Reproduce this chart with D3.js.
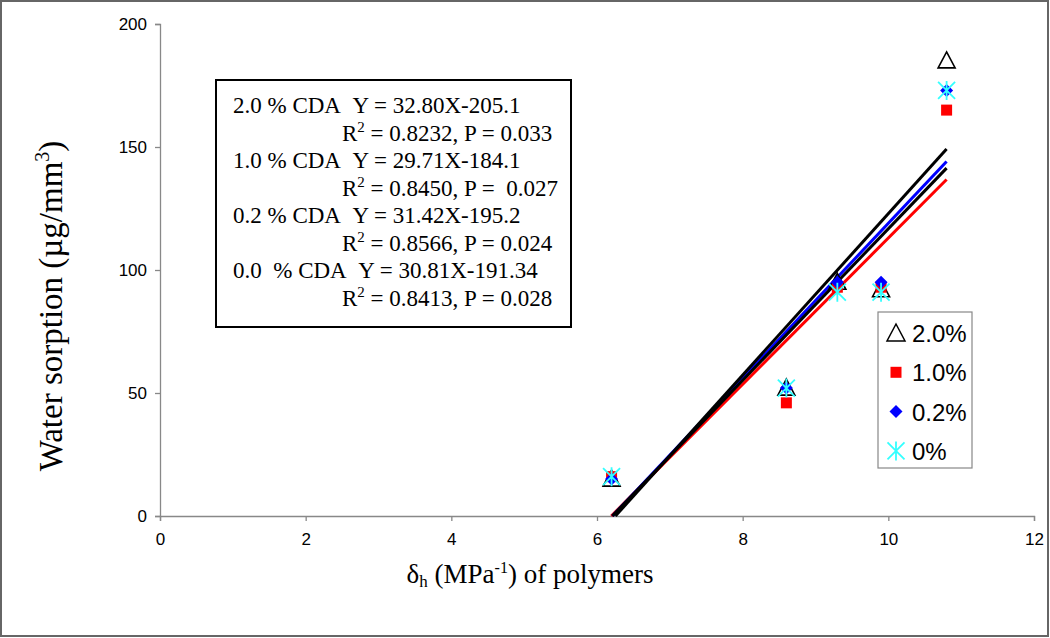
<!DOCTYPE html>
<html><head><meta charset="utf-8">
<script src="https://cdn.jsdelivr.net/npm/d3@7/dist/d3.min.js"></script>
<style>body{margin:0;background:#fff}svg{display:block}</style>
</head><body>
<script>
const xValues = [6.2, 8.6, 9.3, 9.9, 10.8];
const series2_0 = [15, 52, 95, 92, 185];
const series1_0 = [16, 46, 93, 93, 165];
const series0_2 = [15, 52, 95, 95, 173];
const series0_0 = [16, 52, 91, 91, 173];
const seriesNames = ["2.0%", "1.0%", "0.2%", "0%"];
const slopes = [32.80, 29.71, 31.42, 30.81];
const intercepts = [-205.1, -184.1, -195.2, -191.34];
const xTicks = [0, 2, 4, 6, 8, 10, 12];
const yTicks = [0, 50, 100, 150, 200];
const eqLines = [
  ["2.0 % CDA\u00a0\u00a0Y = 32.80X-205.1", "= 0.8232, P = 0.033"],
  ["1.0 % CDA\u00a0\u00a0Y = 29.71X-184.1", "= 0.8450, P =\u00a0\u00a00.027"],
  ["0.2 % CDA\u00a0\u00a0Y = 31.42X-195.2", "= 0.8566, P = 0.024"],
  ["0.0\u00a0\u00a0% CDA\u00a0\u00a0Y = 30.81X-191.34", "= 0.8413, P = 0.028"]
];

const W = 1050, H = 638;
const svg = d3.select("body").append("svg").attr("width", W).attr("height", H);
svg.append("rect").attr("x", 1).attr("y", 1).attr("width", W - 3).attr("height", H - 3)
  .attr("fill", "#fff").attr("stroke", "#666").attr("stroke-width", 2);

const x = d3.scaleLinear().domain([0, 12]).range([160, 1034]);
const y = d3.scaleLinear().domain([0, 200]).range([516, 24]);

// axes
const gx = svg.append("g").attr("transform", "translate(0,516)")
  .call(d3.axisBottom(x).tickValues(xTicks).tickSize(5).tickPadding(12).tickFormat(d3.format("d")));
const gy = svg.append("g").attr("transform", "translate(160,0)")
  .call(d3.axisLeft(y).tickValues(yTicks).tickSize(5).tickPadding(8).tickFormat(d3.format("d")));
[gx, gy].forEach(g => {
  g.select(".domain").attr("stroke", "#888").attr("stroke-width", 1.3);
  g.selectAll(".tick line").attr("stroke", "#888").attr("stroke-width", 1.3);
  g.selectAll(".tick text").attr("font-family", "Liberation Sans, Arial, sans-serif")
    .attr("font-size", 17).attr("fill", "#000");
});

// regression lines
const lineColors = ["#000", "#ff0000", "#0000ff", "#000"];
const lineOrder = [1, 2, 3, 0];
lineOrder.forEach(i => {
  const x0 = -intercepts[i] / slopes[i];
  const x1 = xValues[xValues.length - 1];
  svg.append("line")
    .attr("x1", x(x0)).attr("y1", y(0))
    .attr("x2", x(x1)).attr("y2", y(slopes[i] * x1 + intercepts[i]))
    .attr("stroke", lineColors[i]).attr("stroke-width", 3);
});

// markers
function drawMarker(g, type, cx, cy) {
  if (type === 0) {
    g.append("path").attr("d", `M${cx},${cy - 9}L${cx + 8.5},${cy + 7}L${cx - 8.5},${cy + 7}Z`)
      .attr("fill", "none").attr("stroke", "#000").attr("stroke-width", 1.6);
  } else if (type === 1) {
    g.append("rect").attr("x", cx - 5.5).attr("y", cy - 5.5).attr("width", 11).attr("height", 11).attr("fill", "#ff0000");
  } else if (type === 2) {
    g.append("path").attr("d", `M${cx},${cy - 6.5}L${cx + 6.5},${cy}L${cx},${cy + 6.5}L${cx - 6.5},${cy}Z`).attr("fill", "#0000ff");
  } else {
    const r = 8.5;
    g.append("path").attr("d",
      `M${cx - r},${cy - r}L${cx + r},${cy + r}M${cx - r},${cy + r}L${cx + r},${cy - r}M${cx},${cy - r - 1}L${cx},${cy + r + 1}`)
      .attr("stroke", "#33ffff").attr("stroke-width", 1.8).attr("fill", "none");
  }
}
const allSeries = [series2_0, series1_0, series0_2, series0_0];
const mg = svg.append("g");
allSeries.forEach((s, si) => {
  s.forEach((v, i) => drawMarker(mg, si, x(xValues[i]), y(v)));
});

// equation box
const serif = "Liberation Serif, Times New Roman, serif";
svg.append("rect").attr("x", 216).attr("y", 80).attr("width", 355).attr("height", 247)
  .attr("fill", "#fff").attr("stroke", "#000").attr("stroke-width", 2);
eqLines.forEach((pair, i) => {
  const b1 = 113 + i * 55, b2 = b1 + 27.5;
  svg.append("text").attr("x", 233).attr("y", b1).attr("font-family", serif).attr("font-size", 23)
    .text(pair[0]);
  const t = svg.append("text").attr("x", 342).attr("y", b2).attr("font-family", serif).attr("font-size", 23);
  t.append("tspan").text("R");
  t.append("tspan").attr("dy", -9).attr("font-size", 15).text("2");
  t.append("tspan").attr("dy", 9).text("\u00a0" + pair[1]);
});

// legend
svg.append("rect").attr("x", 878).attr("y", 312).attr("width", 94).attr("height", 156)
  .attr("fill", "#fff").attr("stroke", "#888").attr("stroke-width", 1.2);
const lg = svg.append("g");
seriesNames.forEach((n, i) => {
  const cy = 333 + i * 39.3;
  if (i === 0) {
    lg.append("path").attr("d", `M896,${cy - 9}L905,${cy + 8}L887,${cy + 8}Z`).attr("fill", "none").attr("stroke", "#000").attr("stroke-width", 1.5);
  } else drawMarker(lg, i, 896, cy);
  lg.append("text").attr("x", 912).attr("y", cy + 9).attr("font-family", "Liberation Sans, Arial, sans-serif")
    .attr("font-size", 24).text(n);
});

// axis titles
const xt = svg.append("text").attr("x", 530).attr("y", 583).attr("text-anchor", "middle")
  .attr("font-family", serif).attr("font-size", 27);
xt.append("tspan").text("δ");
xt.append("tspan").attr("font-size", 17).attr("dy", 4).text("h");
xt.append("tspan").attr("dy", -4).text(" (MPa");
xt.append("tspan").attr("font-size", 16).attr("dy", -10).text("-1");
xt.append("tspan").attr("dy", 10).text(") of polymers");

const yt = svg.append("text").attr("transform", "translate(62,306) rotate(-90)").attr("text-anchor", "middle")
  .attr("font-family", serif).attr("font-size", 33);
yt.append("tspan").text("Water sorption (µg/mm");
yt.append("tspan").attr("font-size", 20).attr("dy", -13).text("3");
yt.append("tspan").attr("dy", 13).text(")");
</script>
</body></html>
